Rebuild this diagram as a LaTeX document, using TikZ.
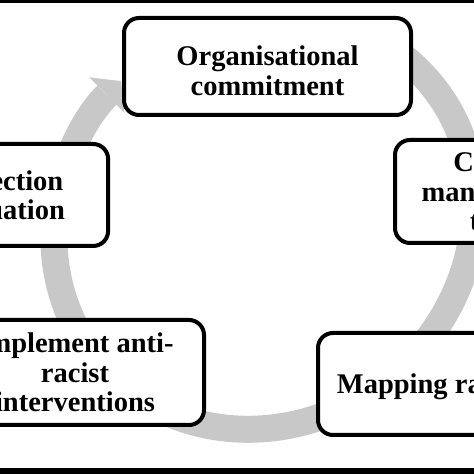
\documentclass[tikz,border=0pt]{standalone}
\usepackage{fontspec}
\setmainfont{Liberation Serif}
\usetikzlibrary{arrows.meta}
\definecolor{ringgray}{RGB}{200,200,200}
\tikzset{
    stage/.style={draw, line width=4pt, rounded corners=15pt, fill=white,
        align=center, inner sep=0pt,
        font=\bfseries\fontsize{28.5}{29.5}\selectfont},
}
\begin{document}
\begin{tikzpicture}[x=1pt, y=1pt]
        \useasboundingbox (0, 0) rectangle (474, 474);
        \clip (0, 0) rectangle (474, 474);
        % cycle arrow
        \begin{scope}[shift={(264, 252)}, rotate=40]
            \draw[line width=27pt, draw=ringgray, -{Triangle[length=20pt, width=50pt, line width=0pt]}]
                (20:216.5pt and 200.5pt) arc[start angle=20, end angle=-265, x radius=216.5pt, y radius=200.5pt];
        \end{scope}
        \node[stage, minimum width=287pt, minimum height=97pt] (commit) at (267.5, 407.5) {\rule{0pt}{28pt}Organisational\\commitment};
        \node[stage, minimum width=210pt, minimum height=103pt] (team) at (500, 282.5) {Change\\management\\team};
        \node[stage, minimum width=238pt, minimum height=102pt] (mapping) at (437, 90) {\rule{0pt}{26pt}Mapping racism};
        \node[stage, minimum width=258pt, minimum height=105pt] (implement) at (75, 101.5) {Implement anti-\\racist\\interventions};
        \node[stage, minimum width=213pt, minimum height=102pt] (reflect) at (1.6, 279) {Reflection\\evaluation};
        % frame
        \fill (0, 471) rectangle (474, 474);
        \fill (0, 0) rectangle (474, 6);
    \end{tikzpicture}
\end{document}
